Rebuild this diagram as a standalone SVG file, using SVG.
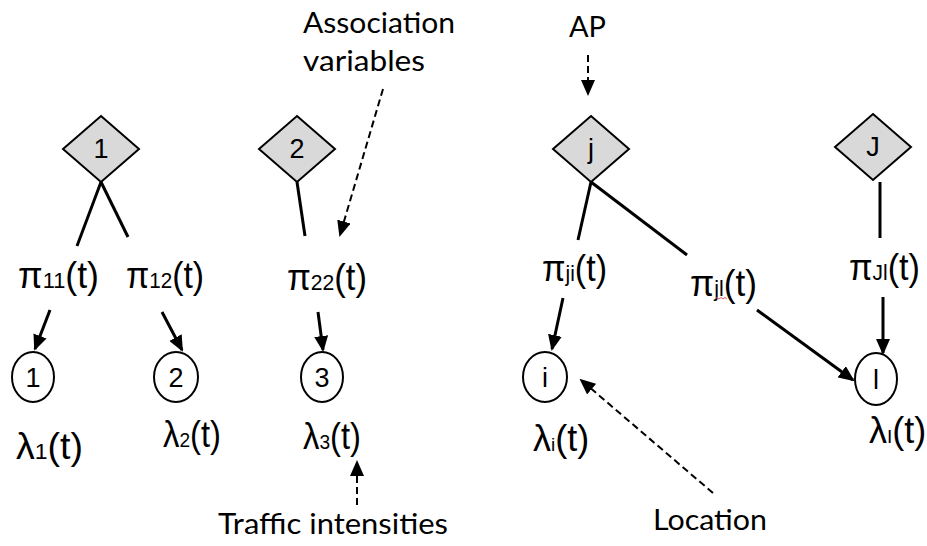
<svg xmlns="http://www.w3.org/2000/svg" width="927" height="546" viewBox="0 0 927 546">
<style>
.dia{fill:#d9d9d9;stroke:#000;stroke-width:2}
.cir{fill:#fff;stroke:#000;stroke-width:2}
.lbl{font-family:"Liberation Sans","DejaVu Sans",sans-serif;font-size:27px;text-anchor:middle;fill:#000}
.f{font-family:"Liberation Sans","DejaVu Sans",sans-serif;font-size:36px;fill:#000}
.ann{font-family:Lato,"Liberation Sans",sans-serif;font-size:29px;fill:#000}
.ln{stroke:#000;stroke-width:3;fill:none}
.ar{stroke:#000;stroke-width:3;fill:none;marker-end:url(#ah)}
.da{stroke:#000;stroke-width:2;fill:none;stroke-dasharray:7 4;marker-end:url(#dh)}
</style>
<defs>
<marker id="ah" markerUnits="userSpaceOnUse" markerWidth="16" markerHeight="14" refX="14" refY="7" orient="auto"><path d="M0,0 L16,7 L0,14 Z" fill="#000"/></marker>
<marker id="dh" markerUnits="userSpaceOnUse" markerWidth="16" markerHeight="14" refX="14" refY="7" orient="auto"><path d="M0,0 L16,7 L0,14 Z" fill="#000"/></marker>
</defs>
<rect width="927" height="546" fill="#fff"/>
<g id="connectors">
<line class="ln" x1="101" y1="182" x2="77" y2="246"/>
<line class="ln" x1="101" y1="182" x2="128" y2="237"/>
<line class="ar" x1="50" y1="310" x2="35" y2="349"/>
<line class="ar" x1="162" y1="312" x2="182" y2="350"/>
<line class="ln" x1="297" y1="182" x2="305" y2="236"/>
<line class="ar" x1="318" y1="312" x2="323" y2="350"/>
<line class="ln" x1="591" y1="182" x2="578" y2="240"/>
<line class="ln" x1="591" y1="182" x2="687" y2="255"/>
<line class="ar" x1="563" y1="298" x2="552" y2="349"/>
<line class="ar" x1="757" y1="310" x2="853" y2="380"/>
<line class="ln" x1="880" y1="182" x2="880" y2="238"/>
<line class="ar" x1="883" y1="297" x2="883" y2="353"/>
<line class="da" x1="383" y1="89" x2="340" y2="235"/>
<line class="da" x1="588" y1="55" x2="588" y2="94"/>
<line class="da" x1="357" y1="505" x2="357" y2="462"/>
<line class="da" x1="713" y1="493" x2="581" y2="380"/>
</g>
<g id="ap1"><polygon class="dia" points="101,116 139,149 101,182 63,149"/><text class="lbl" x="101" y="158">1</text></g>
<g id="ap2"><polygon class="dia" points="297,116 335,149 297,182 259,149"/><text class="lbl" x="297" y="158">2</text></g>
<g id="apj"><polygon class="dia" points="591,116 629,149 591,182 553,149"/><text class="lbl" x="591" y="158">j</text></g>
<g id="apJ"><polygon class="dia" points="873,114 911,147 873,180 835,147"/><text class="lbl" x="873" y="156">J</text></g>
<g id="loc1"><ellipse class="cir" cx="33" cy="377" rx="21" ry="25"/><text class="lbl" x="33" y="387">1</text></g>
<g id="loc2"><ellipse class="cir" cx="176" cy="377" rx="22" ry="25"/><text class="lbl" x="176" y="387">2</text></g>
<g id="loc3"><ellipse class="cir" cx="322" cy="377" rx="21" ry="25"/><text class="lbl" x="322" y="387">3</text></g>
<g id="loci"><ellipse class="cir" cx="545" cy="377" rx="22" ry="25"/><text class="lbl" x="545" y="387">i</text></g>
<g id="locl"><ellipse class="cir" cx="876" cy="379" rx="21" ry="26"/><text class="lbl" x="876" y="389">l</text></g>
<g id="pi11"><text class="f" x="18" y="288" textLength="81" lengthAdjust="spacingAndGlyphs">π<tspan font-size="22">11</tspan>(t)</text></g>
<g id="pi12"><text class="f" x="126" y="288" textLength="78" lengthAdjust="spacingAndGlyphs">π<tspan font-size="22">12</tspan>(t)</text></g>
<g id="pi22"><text class="f" x="287" y="290" textLength="80" lengthAdjust="spacingAndGlyphs">π<tspan font-size="22">22</tspan>(t)</text></g>
<g id="piji"><text class="f" x="542" y="281" textLength="65" lengthAdjust="spacingAndGlyphs">π<tspan font-size="22">ji</tspan>(t)</text></g>
<g id="pijl"><text class="f" x="690" y="296" textLength="67" lengthAdjust="spacingAndGlyphs">π<tspan font-size="22">jl</tspan>(t)</text><path d="M715,299 l2,-1.5 l2,1.5 l2,-1.5 l2,1.5 l2,-1.5 l2,1.5" stroke="#e06060" stroke-width="1" fill="none"/></g>
<g id="piJl"><text class="f" x="849" y="280" textLength="71" lengthAdjust="spacingAndGlyphs">π<tspan font-size="22">Jl</tspan>(t)</text></g>
<g id="lam1"><text class="f" x="16" y="459" textLength="67" lengthAdjust="spacingAndGlyphs">λ<tspan font-size="22">1</tspan>(t)</text></g>
<g id="lam2"><text class="f" x="163" y="447" font-size="28" textLength="58" lengthAdjust="spacingAndGlyphs">λ<tspan font-size="21">2</tspan>(t)</text></g>
<g id="lam3"><text class="f" x="303" y="449" font-size="28" textLength="58" lengthAdjust="spacingAndGlyphs">λ<tspan font-size="21">3</tspan>(t)</text></g>
<g id="lami"><text class="f" x="533" y="451" font-size="26">λ<tspan font-size="19">i</tspan>(t)</text></g>
<g id="lamI"><text class="f" x="869" y="443" font-size="26">λ<tspan font-size="19">I</tspan>(t)</text></g>
<g id="ann-assoc"><text class="ann" x="303" y="33" textLength="152" lengthAdjust="spacingAndGlyphs">Association</text><text class="ann" x="303" y="71" textLength="122" lengthAdjust="spacingAndGlyphs">variables</text></g>
<g id="ann-ap"><text class="ann" x="569" y="37" textLength="37" lengthAdjust="spacingAndGlyphs">AP</text></g>
<g id="ann-traffic"><text class="ann" x="218" y="534" textLength="230" lengthAdjust="spacingAndGlyphs">Traffic intensities</text></g>
<g id="ann-loc"><text class="ann" x="653" y="530" textLength="114" lengthAdjust="spacingAndGlyphs">Location</text></g>
</svg>
